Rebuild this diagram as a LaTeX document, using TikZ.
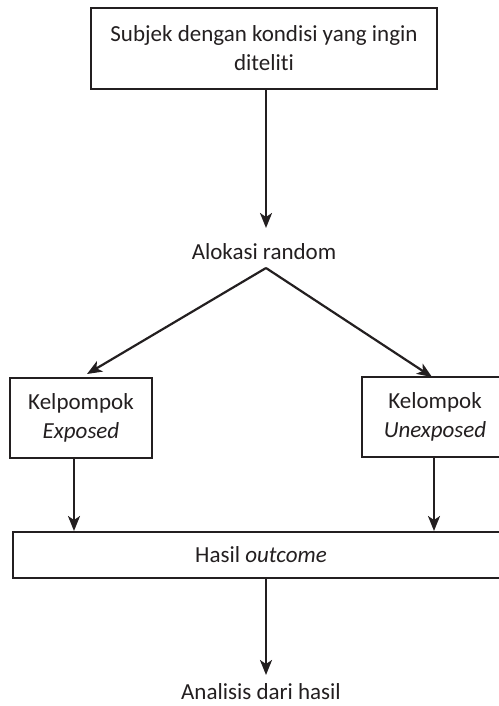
\documentclass[tikz,border=0pt]{standalone}
\usepackage{fontspec}
\setmainfont[Ligatures=NoCommon]{Carlito}
\usetikzlibrary{arrows.meta}
\definecolor{ink}{RGB}{35,31,32}
\begin{document}
\begin{tikzpicture}[x=1pt,y=-1pt,
  every node/.style={text=ink,font=\fontsize{23}{29}\selectfont},
  box/.style={draw=ink,line width=2.4pt,rectangle,inner sep=0pt,align=center},
  label/.style={inner sep=0pt,align=center},
  arr/.style={draw=ink,line width=2.2pt,-{Stealth[length=15pt,width=12pt,inset=4pt]}}]
\useasboundingbox (0,0) rectangle (498,706);
% nodes
\node[box,minimum width=346pt,minimum height=81pt] (subj) at (264,48.5)
  {Subjek dengan kondisi yang ingin\\diteliti};
\node[label] (alok) at (264,252) {Alokasi random};
\node[box,minimum width=142pt,minimum height=80pt] (exp) at (81,418)
  {Kelpompok\\\textit{Exposed}};
\node[box,minimum width=146pt,minimum height=80pt] (unexp) at (435,417)
  {Kelompok\\\textit{Unexposed}};
\node[box,minimum width=496pt,minimum height=46pt] (hasil) at (261,555)
  {Hasil \textit{outcome}};
\node[label] (anal) at (261,692) {Analisis dari hasil};
% connector ends
\coordinate (subjOut) at (266,89);
\coordinate (alokIn) at (266,228);
\coordinate (split) at (266,268);
\coordinate (expIn) at (87,374);
\coordinate (unexpIn) at (432,377);
\coordinate (hasilInL) at (74,531);
\coordinate (hasilInR) at (434,531);
\coordinate (analIn) at (266,675);
% connectors
\draw[arr] (subjOut) -- (alokIn);
\draw[arr] (split) -- (expIn);
\draw[arr] (split) -- (unexpIn);
\draw[arr] (exp.south -| hasilInL) -- (hasilInL);
\draw[arr] (unexp.south -| hasilInR) -- (hasilInR);
\draw[arr] (hasil.south -| analIn) -- (analIn);
\end{tikzpicture}
\end{document}
